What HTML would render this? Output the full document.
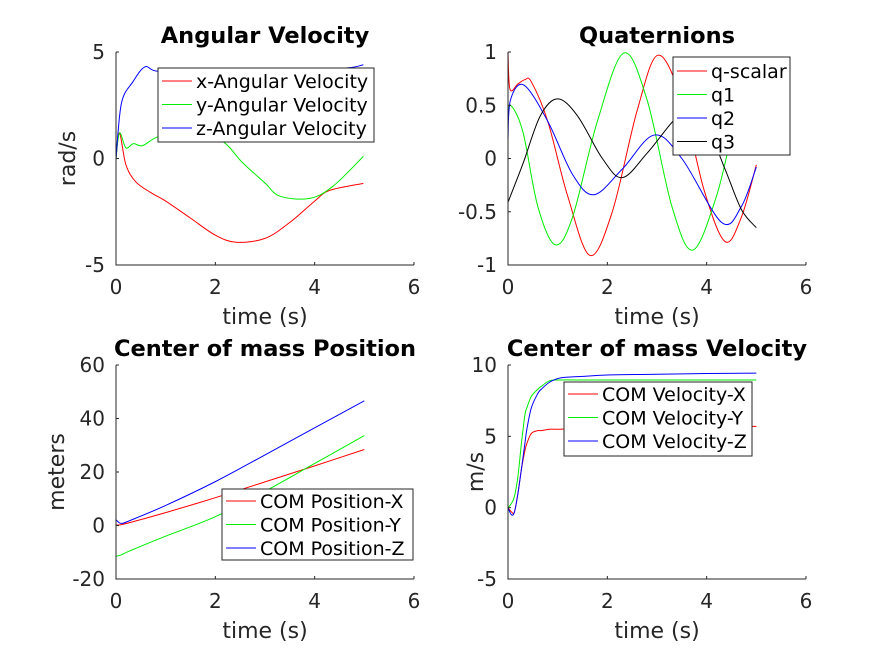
<!DOCTYPE html>
<html><head><meta charset="utf-8"><style>
html,body{margin:0;padding:0;background:#fff;}
svg{display:block;font-family:"DejaVu Sans","Liberation Sans",sans-serif;}
</style></head><body>
<svg id="fig" width="891" height="659" viewBox="0 0 891 659"></svg>
<script>
// ---- data ----
const xTicks=[0,2,4,6];
const avT=[0,0.07,0.2,0.4,0.7,1.0,1.5,2.0,2.42,3.0,3.5,4.0,4.3,4.98];
const avX=[0,1.2,-0.3,-1.1,-1.6,-2.0,-2.8,-3.6,-3.93,-3.75,-3.0,-2.0,-1.5,-1.17];
const avYT=[0,0.07,0.2,0.35,0.53,0.82,1.2,1.6,2.15,2.55,3.0,3.3,3.9,4.37,4.98];
const avY=[0,1.2,0.5,0.7,0.6,1.0,1.2,1.25,0.8,-0.2,-1.15,-1.77,-1.87,-1.3,0.1];
const avZT=[0,0.11,0.34,0.58,0.82,1.5,2.5,3.5,4.63,4.98];
const avZ=[0,2.6,3.6,4.3,4.1,4.1,4.1,4.15,4.25,4.4];
const avTicks=[-5,0,5];
const qT1=[0,0.04,0.2,0.34,0.47,0.8,1.2,1.65,2.1,2.6,3.02,3.5,3.95,4.37,4.7,5.0];
const qS=[1,0.65,0.7,0.74,0.72,0.35,-0.35,-0.91,-0.5,0.45,0.97,0.55,-0.3,-0.78,-0.55,-0.06];
const qT2=[0,0.05,0.3,0.6,0.95,1.3,1.8,2.33,2.8,3.3,3.72,4.2,4.6,5.0];
const q1=[0.35,0.5,0.25,-0.45,-0.81,-0.55,0.35,0.99,0.55,-0.45,-0.86,-0.35,0.4,0.9];
const qT3=[0,0.05,0.32,0.8,1.3,1.73,2.3,2.94,3.5,4.3,4.7,5.0];
const q2=[0.18,0.55,0.69,0.35,-0.15,-0.34,-0.1,0.22,0.0,-0.6,-0.45,-0.08];
const qT4=[0,0.3,0.65,1.0,1.4,1.9,2.3,2.8,3.36,3.6,4.0,4.37,4.7,5.0];
const q3=[-0.41,-0.05,0.4,0.56,0.4,0.0,-0.18,0.05,0.37,0.42,0.3,-0.1,-0.48,-0.65];
const qTicks=[-1,-0.5,0,0.5,1];
const pT=[0,0.1,0.3,1,2,3,4,5];
const pX=[0.2,0.3,1.2,4.8,10.4,16.3,22.3,28.4];
const pY=[-11.5,-11,-9.3,-4,3.3,12.8,23.2,33.6];
const pZ=[2.2,0.8,2,7.5,16.4,26.4,36.5,46.6];
const pTicks=[-20,0,20,40,60];
const vT=[0,0.07,0.13,0.2,0.27,0.34,0.38,0.47,0.6,0.67,0.84,1.06,1.5,2,3,4,5];
const vX=[0,-0.3,-0.3,1,2.7,4,4.5,5.2,5.4,5.4,5.5,5.5,5.6,5.6,5.65,5.7,5.7];
const vY=[0,0.3,0.8,2.2,4.5,6.5,7,7.8,8.3,8.5,8.9,8.95,8.95,8.95,8.95,8.95,8.95];
const vZ=[0,-0.5,-0.3,1,2.7,4.5,5.5,7,8,8.3,8.8,9.1,9.2,9.3,9.35,9.4,9.43];
const vTicks=[-5,0,5,10];

const NS="http://www.w3.org/2000/svg";
const fig=document.getElementById('fig');
function mk(tag,attrs,parent){const e=document.createElementNS(NS,tag);for(const k in attrs)e.setAttribute(k,attrs[k]);(parent||fig).appendChild(e);return e;}
function curve(pts){let d="M"+pts[0][0]+","+pts[0][1];for(let i=0;i<pts.length-1;i++){const p0=pts[Math.max(0,i-1)],p1=pts[i],p2=pts[i+1],p3=pts[Math.min(pts.length-1,i+2)];const c1=[p1[0]+(p2[0]-p0[0])/6,p1[1]+(p2[1]-p0[1])/6],c2=[p2[0]-(p3[0]-p1[0])/6,p2[1]-(p3[1]-p1[1])/6];d+=" C"+c1[0].toFixed(2)+","+c1[1].toFixed(2)+" "+c2[0].toFixed(2)+","+c2[1].toFixed(2)+" "+p2[0].toFixed(2)+","+p2[1].toFixed(2);}return d;}

function axes(o){
  const g=mk('g',{});
  
  
  const X=v=>o.x0+(v-0)/6*(o.x1-o.x0);
  const Y=v=>o.y1-(v-o.ymin)/(o.ymax-o.ymin)*(o.y1-o.y0);
  o.series.forEach(s=>{
    const p=mk('path',{d:curve(s.t.map((t,i)=>[X(t),Y(s.v[i])])),fill:'none',stroke:s.c,'stroke-width':1},g);
    
    
  });
  mk('path',{d:`M${o.x0},${o.y0}V${o.y1}H${o.x1}`,fill:'none',stroke:'#262626','stroke-width':1},g);
  xTicks.forEach(t=>{const x=X(t);mk('line',{x1:x,x2:x,y1:o.y1,y2:o.y1-3,stroke:'#262626'},g);
    const tx=mk('text',{x:x,y:o.y1+29,'text-anchor':'middle','font-size':20,fill:'#262626'},g);tx.textContent=t;
    });
  o.yt.forEach(t=>{const y=Y(t);mk('line',{x1:o.x0,x2:o.x0+3,y1:y,y2:y,stroke:'#262626'},g);
    const tx=mk('text',{x:o.x0-11,y:y+7,'text-anchor':'end','font-size':20,fill:'#262626'},g);tx.textContent=t;
    });
  const ti=mk('text',{x:(o.x0+o.x1)/2,y:o.y0-9,'text-anchor':'middle','font-size':22.5,'font-weight':'bold',fill:'#000'},g);ti.textContent=o.title;
  
  const xl=mk('text',{x:(o.x0+o.x1)/2,y:o.y1+59,'text-anchor':'middle','font-size':22,fill:'#262626'},g);xl.textContent='time (s)';
  
  const yl=mk('text',{x:0,y:0,'text-anchor':'middle','font-size':22,fill:'#262626',transform:`translate(${o.ylx},${(o.y0+o.y1)/2}) rotate(-90)`},g);yl.textContent=o.ylabel;
  
  const L=o.leg;const lg=mk('g',{},g);
  
  mk('rect',{x:L.x,y:L.y,width:L.w,height:L.h,fill:'#fff',stroke:'#262626','stroke-width':1},lg);
  o.series.forEach((s,i)=>{const cy=L.y+L.pad+i*L.dy;
    const e=mk('g',{},lg);
    mk('line',{x1:L.x+4,x2:L.x+4+L.ll,y1:cy,y2:cy,stroke:s.c},e);
    const tx=mk('text',{x:L.x+8+L.ll,y:cy+7,'font-size':19,fill:'#000'},e);tx.textContent=s.label;});
}
axes({name:'angular-velocity-plot',x0:116,x1:414,y0:52,y1:265,ymin:-5,ymax:5,yt:avTicks,title:'Angular Velocity',ylabel:'rad/s',ylx:75,
  leg:{x:158,y:68,w:216,h:74,pad:13,dy:23.5,ll:30},
  series:[{id:'x-angular-line',t:avT,v:avX,c:'#ff0000',label:'x-Angular Velocity'},{id:'y-angular-line',t:avYT,v:avY,c:'#00ee00',label:'y-Angular Velocity'},{id:'z-angular-line',t:avZT,v:avZ,c:'#0000ff',label:'z-Angular Velocity'}]});
axes({name:'quaternions-plot',x0:508,x1:806,y0:52,y1:265,ymin:-1,ymax:1,yt:qTicks,title:'Quaternions',ylabel:'',ylx:470,
  leg:{x:673,y:57,w:117,h:98,pad:14,dy:23.5,ll:30},
  series:[{id:'q-scalar-line',t:qT1,v:qS,c:'#ff0000',label:'q-scalar'},{id:'q1-line',t:qT2,v:q1,c:'#00ee00',label:'q1'},{id:'q2-line',t:qT3,v:q2,c:'#0000ff',label:'q2'},{id:'q3-line',t:qT4,v:q3,c:'#000000',label:'q3'}]});
axes({name:'com-position-plot',x0:116,x1:414,y0:365,y1:579,ymin:-20,ymax:60,yt:pTicks,title:'Center of mass Position',ylabel:'meters',ylx:64,
  leg:{x:222,y:489,w:191,h:71,pad:12,dy:23.5,ll:30},
  series:[{id:'com-pos-x-line',t:pT,v:pX,c:'#ff0000',label:'COM Position-X'},{id:'com-pos-y-line',t:pT,v:pY,c:'#00ee00',label:'COM Position-Y'},{id:'com-pos-z-line',t:pT,v:pZ,c:'#0000ff',label:'COM Position-Z'}]});
axes({name:'com-velocity-plot',x0:508,x1:806,y0:365,y1:579,ymin:-5,ymax:10,yt:vTicks,title:'Center of mass Velocity',ylabel:'m/s',ylx:483,
  leg:{x:564,y:382,w:188,h:74,pad:12,dy:23.5,ll:30},
  series:[{id:'com-vel-x-line',t:vT,v:vX,c:'#ff0000',label:'COM Velocity-X'},{id:'com-vel-y-line',t:vT,v:vY,c:'#00ee00',label:'COM Velocity-Y'},{id:'com-vel-z-line',t:vT,v:vZ,c:'#0000ff',label:'COM Velocity-Z'}]});
</script>
</body></html>
